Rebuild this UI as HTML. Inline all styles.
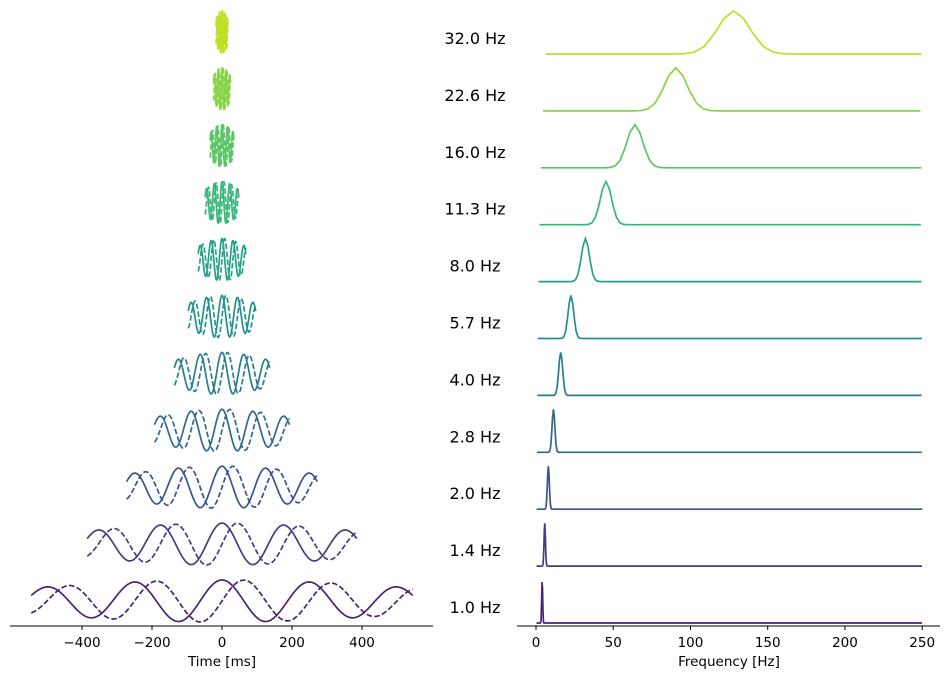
<!DOCTYPE html>
<html><head><meta charset="utf-8"><style>
body{margin:0;background:#fff;}
svg{display:block;font-family:"DejaVu Sans","Liberation Sans",sans-serif;}
</style></head><body>
<svg id="fig" width="950" height="679" viewBox="0 0 950 679" xmlns="http://www.w3.org/2000/svg">
<g id="left"></g>
<g id="right"></g>
</svg>
<script>
const labels = ["1.0 Hz","1.4 Hz","2.0 Hz","2.8 Hz","4.0 Hz","5.7 Hz","8.0 Hz","11.3 Hz","16.0 Hz","22.6 Hz","32.0 Hz"];
const freqs = [4, 5.66, 8, 11.3, 16, 22.6, 32, 45.3, 64, 90.5, 128];
const timeTicks = [-400,-200,0,200,400];
const freqTicks = [0,50,100,150,200,250];

const NS="http://www.w3.org/2000/svg";
function el(tag,attrs,parent){const e=document.createElementNS(NS,tag);for(const k in attrs)e.setAttribute(k,attrs[k]);parent.appendChild(e);return e;}
const vir=[[0,'#440154'],[0.1,'#482475'],[0.2,'#414487'],[0.3,'#355f8d'],[0.4,'#2a788e'],[0.5,'#21918c'],[0.6,'#22a884'],[0.7,'#44bf70'],[0.8,'#7ad151'],[0.9,'#bddf26'],[1,'#fde725']];
function hex(h){return [1,3,5].map(i=>parseInt(h.substr(i,2),16));}
function viridis(t){for(let i=0;i<vir.length-1;i++){if(t<=vir[i+1][0]){const a=hex(vir[i][1]),b=hex(vir[i+1][1]);const u=(t-vir[i][0])/(vir[i+1][0]-vir[i][0]);return 'rgb('+a.map((v,j)=>Math.round(v+(b[j]-v)*u)).join(',')+')';}}return vir[vir.length-1][1];}

const xT = ms => 222 + ms*0.35;
const xF = hz => 536 + hz*1.5448;
const rowY = i => 601 - i*56.9;
const baseY = i => 623 - i*56.9;

const L=document.getElementById('left'), R=document.getElementById('right');

freqs.forEach((f,i)=>{
  const c = viridis(0.1 + 0.8*i/(freqs.length-1));
  const span = 2.18/f, sig = 2.24/f;
  let ps="", pd="";
  for(let k=0;k<=800;k++){
    const t=-span+2*span*k/800;
    const env=Math.exp(-t*t/(2*sig*sig));
    const x=xT(t*1000).toFixed(2);
    ps+=(k?"L":"M")+x+","+(rowY(i)-21*env*Math.cos(2*Math.PI*f*t)).toFixed(2);
    pd+=(k?"L":"M")+x+","+(rowY(i)-21*env*Math.sin(2*Math.PI*f*t)).toFixed(2);
  }
  const a=el('path',{d:ps,fill:'none',stroke:c,'stroke-width':1.7},L);
  
  
  const b=el('path',{d:pd,fill:'none',stroke:c,'stroke-width':1.7,'stroke-dasharray':'5.5,2.4'},L);
  
  
  // spectrum
  const sf=f*0.08, step=Math.max(0.3,f*0.05);
  let p="";let first=true;
  for(let h=step; h<=250.001; h+=step){
    const v=Math.exp(-(h-f)*(h-f)/(2*sf*sf));
    p+=(first?"M":"L")+xF(h).toFixed(2)+","+(baseY(i)-43*v).toFixed(2);first=false;
  }
  const s=el('path',{d:p,fill:'none',stroke:c,'stroke-width':1.7},R);
  
  
  const t=el('text',{x:475,y:rowY(i)+12,'font-size':16,'text-anchor':'middle',fill:'#000'},R);
  t.textContent=labels[i];
  
  
});

// axes
const ax1=el('line',{x1:10,x2:433,y1:626,y2:626,stroke:'#000','stroke-width':1},L);


timeTicks.forEach(v=>{
  el('line',{x1:xT(v),x2:xT(v),y1:626,y2:630,stroke:'#000'},L);
  const t=el('text',{x:xT(v),y:647,'font-size':13.5,'text-anchor':'middle'},L);
  t.textContent=(v<0?'\u2212'+(-v):v);
  
  
});
const xl1=el('text',{x:222,y:666,'font-size':13.5,'text-anchor':'middle'},L);
xl1.textContent='Time [ms]';



const ax2=el('line',{x1:517,x2:940,y1:626,y2:626,stroke:'#000','stroke-width':1},R);


freqTicks.forEach(v=>{
  el('line',{x1:xF(v),x2:xF(v),y1:626,y2:630,stroke:'#000'},R);
  const t=el('text',{x:xF(v),y:647,'font-size':13.5,'text-anchor':'middle'},R);
  t.textContent=v;
  
  
});
const xl2=el('text',{x:729,y:666,'font-size':13.5,'text-anchor':'middle'},R);
xl2.textContent='Frequency [Hz]';


</script>
</body></html>
